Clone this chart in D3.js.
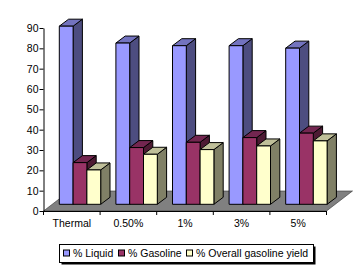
<!DOCTYPE html>
<html>
<head>
<meta charset="utf-8">
<script src="https://cdnjs.cloudflare.com/ajax/libs/d3/7.8.5/d3.min.js"></script>
<style>
  html, body { margin: 0; padding: 0; background: #fff; }
  text { font-family: "Liberation Sans", Arial, sans-serif; font-size: 10.5px; fill: #000; }
</style>
</head>
<body>
<div id="chart"></div>
<script>
// Data
const categories = ['Thermal', '0.50%', '1%', '3%', '5%']
const seriesNames = ['% Liquid', '% Gasoline', '% Overall gasoline yield']
const liquid = [87.6, 79.3, 78, 78, 76.8]
const gasoline = [20.5, 27.9, 30.5, 32.8, 35]
const yieldPct = [16.9, 24.6, 26.9, 28.7, 31.2]
const yTicks = [0, 10, 20, 30, 40, 50, 60, 70, 80, 90]
const seriesValues = [liquid, gasoline, yieldPct]

// Colours: front, side, top
const frontColors = ['#9999ff', '#993366', '#ffffcc']
const sideColors = ['#4d4d80', '#4d1a33', '#808066']
const topColors = ['#7373bf', '#732650', '#bfbf99']

const width = 360
const height = 270
const depthX = 9.3
const depthY = 7
const baseLift = 6.7

const svg = d3.select('#chart')
  .append('svg')
  .attr('width', width)
  .attr('height', height)
  .style('display', 'block')

// Scales
const yScale = d3.scaleLinear().domain([0, 90]).range([211, 28])
const xScale = d3.scaleBand().domain(categories).range([43.5, 326.5])
const seriesScale = d3.scaleBand()
  .domain(d3.range(seriesNames.length))
  .range([15.8, 57.2])

// Floor
const floorRight = xScale.range()[1]
const floorLeft = xScale.range()[0]
svg.append('polygon')
  .attr('points', [
    [floorLeft, yScale(0)],
    [floorRight, yScale(0)],
    [floorRight + 26, yScale(0) - 20],
    [floorLeft + 26, yScale(0) - 20],
  ].join(' '))
  .attr('fill', '#808080')
  .attr('stroke', '#333')
  .attr('stroke-width', 0.6)

// Bars
const barData = categories.flatMap((c, ci) => seriesValues.map((vals, si) => ({ c, si, v: vals[ci] })))
const bars = svg.append('g')
  .attr('transform', `translate(0, ${-baseLift})`)
  .selectAll('g')
  .data(barData)
  .join('g')
  .attr('stroke', '#000')
  .attr('stroke-width', 1)
  .attr('stroke-linejoin', 'round')

const barX = d => xScale(d.c) + seriesScale(d.si)
const bw = seriesScale.bandwidth()

bars.append('path')
  .attr('fill', d => sideColors[d.si])
  .attr('d', d => {
    const x = barX(d) + bw, y = yScale(d.v), y0 = yScale(0)
    return `M${x},${y}l${depthX},${-depthY}L${x + depthX},${y0 - depthY}L${x},${y0}Z`
  })

bars.append('path')
  .attr('fill', d => topColors[d.si])
  .attr('d', d => {
    const x = barX(d), y = yScale(d.v)
    return `M${x},${y}l${depthX},${-depthY}h${bw}l${-depthX},${depthY}Z`
  })

bars.append('rect')
  .attr('fill', d => frontColors[d.si])
  .attr('x', barX)
  .attr('y', d => yScale(d.v))
  .attr('width', bw)
  .attr('height', d => yScale(0) - yScale(d.v))

// Axis
const yAxis = d3.axisLeft(yScale)
  .tickValues(yTicks)
  .tickSize(4)
  .tickPadding(1)
  .tickSizeOuter(0)
svg.append('g')
  .attr('transform', `translate(${floorLeft}, 0)`)
  .call(yAxis)

const xAxis = d3.axisBottom(xScale)
  .tickSize(0)
  .tickPadding(9)
const xAxisG = svg.append('g')
  .attr('transform', `translate(0, ${yScale(0)})`)
  .call(xAxis)
xAxisG.selectAll('.boundary')
  .data([floorLeft, ...categories.map(c => xScale(c) + xScale.bandwidth())])
  .join('line')
  .attr('class', 'boundary')
  .attr('stroke', '#000')
  .attr('x1', d => d)
  .attr('x2', d => d)
  .attr('y1', 0)
  .attr('y2', 4)
svg.selectAll('.domain').attr('stroke', '#000')
svg.selectAll('text').style('font-family', '"Liberation Sans", Arial, sans-serif').style('font-size', '10.5px')

// Legend
const legendBox = { x: 59.5, y: 244.5, w: 254, h: 18 }
const legend = svg.append('g')
legend.append('rect')
  .attr('x', legendBox.x + 2)
  .attr('y', legendBox.y + 2)
  .attr('width', legendBox.w)
  .attr('height', legendBox.h)
  .attr('fill', '#000')
legend.append('rect')
  .attr('x', legendBox.x)
  .attr('y', legendBox.y)
  .attr('width', legendBox.w)
  .attr('height', legendBox.h)
  .attr('fill', '#fff')
  .attr('stroke', '#000')

const legendX = [63, 118, 186]
const items = legend.selectAll('.item')
  .data(seriesNames)
  .join('g')
  .attr('class', 'item')
  .attr('transform', (d, i) => `translate(${legendX[i]}, ${legendBox.y + 9})`)
items.append('rect')
  .attr('x', 0.5)
  .attr('y', -3.5)
  .attr('width', 6)
  .attr('height', 6)
  .attr('fill', (d, i) => frontColors[i])
  .attr('stroke', '#000')
items.append('text')
  .attr('x', 10)
  .attr('dy', '0.35em')
  .text(d => d)
</script>
</body>
</html>
